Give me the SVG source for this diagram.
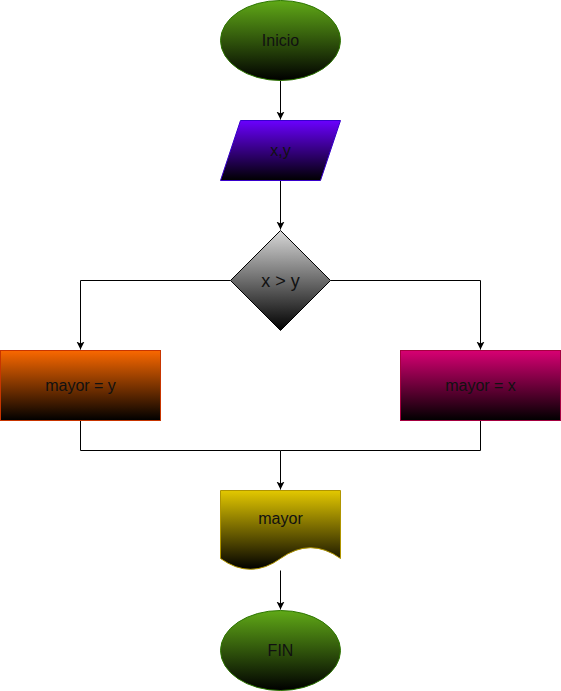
<svg xmlns="http://www.w3.org/2000/svg" width="561" height="691" viewBox="0 0 561 691">
<style>
text{font-family:"Liberation Sans",Arial,sans-serif;font-size:16px;fill:#111;text-anchor:middle;dominant-baseline:central}
.c{fill:none;stroke:#000;stroke-width:1}
</style>
<defs>
<linearGradient id="gGreen" x1="0" y1="0" x2="0" y2="1"><stop offset="0" stop-color="#60a917"/><stop offset="1" stop-color="#000"/></linearGradient>
<linearGradient id="gPurple" x1="0" y1="0" x2="0" y2="1"><stop offset="0" stop-color="#6a00ff"/><stop offset="1" stop-color="#000"/></linearGradient>
<linearGradient id="gGray" x1="0" y1="0" x2="0" y2="1"><stop offset="0" stop-color="#d8d8d8"/><stop offset="1" stop-color="#000"/></linearGradient>
<linearGradient id="gOrange" x1="0" y1="0" x2="0" y2="1"><stop offset="0" stop-color="#fa6800"/><stop offset="1" stop-color="#000"/></linearGradient>
<linearGradient id="gPink" x1="0" y1="0" x2="0" y2="1"><stop offset="0" stop-color="#d80073"/><stop offset="1" stop-color="#000"/></linearGradient>
<linearGradient id="gYellow" x1="0" y1="0" x2="0" y2="1"><stop offset="0" stop-color="#e3c800"/><stop offset="1" stop-color="#000"/></linearGradient>
<marker id="arr" markerWidth="9" markerHeight="9" refX="8" refY="4.5" orient="auto" markerUnits="userSpaceOnUse">
<path d="M0,0.5 L8,4.5 L0,8.5 L2,4.5 Z" fill="#000"/>
</marker>
</defs>
<g transform="translate(0.5,0.5)">
<g id="connectors">
<path class="c" d="M280,80 L280,119" marker-end="url(#arr)"/>
<path class="c" d="M280,180 L280,229" marker-end="url(#arr)"/>
<path class="c" d="M230,280 L80,280 L80,349" marker-end="url(#arr)"/>
<path class="c" d="M330,280 L480,280 L480,349" marker-end="url(#arr)"/>
<path class="c" d="M80,420 L80,450 L280,450 L280,489" marker-end="url(#arr)"/>
<path class="c" d="M480,420 L480,450 L280,450"/>
<path class="c" d="M280,570 L280,609" marker-end="url(#arr)"/>
</g>
<g id="inicio">
<ellipse cx="280" cy="40" rx="60" ry="40" fill="url(#gGreen)" stroke="#2d7600"/>
<text x="280" y="40">Inicio</text>
</g>
<g id="entrada">
<path d="M240,120 L340,120 L320,180 L220,180 Z" fill="url(#gPurple)" stroke="#3700cc"/>
<text x="280" y="150">x,y</text>
</g>
<g id="decision">
<path d="M280,230 L330,280 L280,330 L230,280 Z" fill="url(#gGray)" stroke="#000"/>
<text x="280" y="280" style="font-size:18px">x &gt; y</text>
</g>
<g id="mayorY">
<rect x="0" y="350" width="160" height="70" fill="url(#gOrange)" stroke="#c73500"/>
<text x="80" y="385">mayor = y</text>
</g>
<g id="mayorX">
<rect x="400" y="350" width="160" height="70" fill="url(#gPink)" stroke="#a50040"/>
<text x="480" y="385">mayor = x</text>
</g>
<g id="salida">
<path d="M220,490 L340,490 L340,558 Q310,536.4 280,558 Q250,579.6 220,558 Z" fill="url(#gYellow)" stroke="#b09500"/>
<text x="280" y="518">mayor</text>
</g>
<g id="fin">
<ellipse cx="280" cy="650" rx="60" ry="40" fill="url(#gGreen)" stroke="#2d7600"/>
<text x="280" y="650">FIN</text>
</g>
</g>
</svg>
